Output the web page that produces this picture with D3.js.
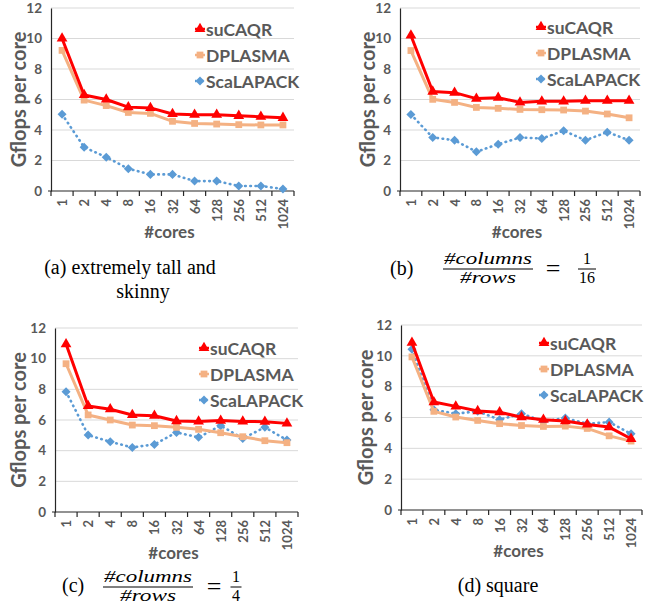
<!DOCTYPE html>
<html>
<head>
<meta charset="utf-8">
<script src="https://cdn.jsdelivr.net/npm/d3@7"></script>
<style>
  body { margin: 0; background: #fff; }
  svg { display: block; }
</style>
</head>
<body>
<div id="chart"></div>
<script>
// categories and ticks
const cores = ["1", "2", "4", "8", "16", "32", "64", "128", "256", "512", "1024"];
const yTicks = [0, 2, 4, 6, 8, 10, 12];
const seriesNames = ["suCAQR", "DPLASMA", "ScaLAPACK"];

// (a) extremely tall and skinny
const aSuCAQR    = [10.0, 6.3, 6.0, 5.5, 5.45, 5.05, 5.0, 5.0, 4.93, 4.87, 4.8];
const aDPLASMA   = [9.22, 5.96, 5.6, 5.15, 5.09, 4.57, 4.43, 4.39, 4.35, 4.33, 4.33];
const aScaLAPACK = [5.04, 2.87, 2.22, 1.46, 1.09, 1.09, 0.65, 0.65, 0.33, 0.33, 0.13];
// (b) columns/rows = 1/16
const bSuCAQR    = [10.2, 6.52, 6.45, 6.06, 6.12, 5.81, 5.88, 5.88, 5.92, 5.92, 5.92];
const bDPLASMA   = [9.21, 6.01, 5.81, 5.48, 5.42, 5.35, 5.33, 5.31, 5.24, 5.05, 4.8];
const bScaLAPACK = [5.02, 3.51, 3.33, 2.57, 3.07, 3.51, 3.44, 3.95, 3.33, 3.86, 3.33];
// (c) columns/rows = 1/4
const cSuCAQR    = [10.95, 6.92, 6.7, 6.33, 6.28, 5.93, 5.91, 5.96, 5.91, 5.89, 5.78];
const cDPLASMA   = [9.67, 6.33, 6.0, 5.67, 5.63, 5.52, 5.39, 5.17, 4.91, 4.65, 4.52];
const cScaLAPACK = [7.85, 5.02, 4.58, 4.21, 4.41, 5.19, 4.87, 5.63, 4.8, 5.52, 4.69];
// (d) square
const dSuCAQR    = [10.85, 7.0, 6.72, 6.42, 6.34, 6.02, 5.86, 5.77, 5.55, 5.38, 4.62];
const dDPLASMA   = [9.93, 6.4, 6.03, 5.81, 5.6, 5.48, 5.42, 5.44, 5.29, 4.81, 4.47];
const dScaLAPACK = [10.42, 6.5, 6.25, 6.4, 5.86, 6.25, 5.75, 5.96, 5.6, 5.7, 4.94];

const width = 649, height = 611;
const textGray = "#595959";
const font = "Lato, 'Open Sans', sans-serif";
const serif = "'Liberation Serif', 'DejaVu Serif', serif";

const styles = [
  { color: "#ff0000", width: 3, dash: null, symbol: d3.symbolTriangle, size: 50 },
  { color: "#f4b183", width: 3, dash: null, symbol: d3.symbolSquare, size: 46 },
  { color: "#5b9bd5", width: 2.6, dash: "0.6,4.6", symbol: "diamond", size: 48 }
];

const panels = [
  { left: 51, right: 294, top: 8, bottom: 191, ylabX: 18, legX: 200, legY: 29,
    series: [aSuCAQR, aDPLASMA, aScaLAPACK] },
  { left: 400, right: 640, top: 8, bottom: 191, ylabX: 367, legX: 541, legY: 27,
    series: [bSuCAQR, bDPLASMA, bScaLAPACK] },
  { left: 55, right: 298, top: 328, bottom: 512, ylabX: 18, legX: 204, legY: 348,
    series: [cSuCAQR, cDPLASMA, cScaLAPACK] },
  { left: 401, right: 642, top: 325, bottom: 510, ylabX: 365, legX: 544, legY: 343,
    series: [dSuCAQR, dDPLASMA, dScaLAPACK] }
];

const svg = d3.select("#chart")
  .append("svg")
  .attr("width", width)
  .attr("height", height);

function marker(style) {
  if (style.symbol === "diamond") {
    const r = Math.sqrt(style.size) / 2 * 1.3;
    return `M0,${-r}L${r},0L0,${r}L${-r},0Z`;
  }
  return d3.symbol().type(style.symbol).size(style.size)();
}

function drawPanel(p) {
  const g = svg.append("g");

  const x = d3.scaleBand().domain(cores).range([p.left, p.right]).padding(0);
  const y = d3.scaleLinear().domain([0, 12]).range([p.bottom, p.top]);

  // gridlines
  g.append("g")
    .selectAll("line")
    .data(yTicks.filter(d => d > 0))
    .join("line")
    .attr("x1", p.left).attr("x2", p.right)
    .attr("y1", d => y(d)).attr("y2", d => y(d))
    .attr("stroke", "#d9d9d9").attr("stroke-width", 1);

  // y axis
  const yAxis = g.append("g")
    .attr("transform", `translate(${p.left},0)`)
    .call(d3.axisLeft(y).tickValues(yTicks).tickSize(0).tickPadding(9));
  yAxis.select(".domain").attr("stroke", "#262626").attr("stroke-width", 1.2);
  yAxis.selectAll("text")
    .attr("fill", textGray)
    .style("font", `bold 13.5px ${font}`);

  // x axis: line with ticks between categories
  const xAxis = g.append("g")
    .attr("transform", `translate(0,${p.bottom})`)
    .call(d3.axisBottom(x).tickSize(0).tickPadding(8));
  xAxis.select(".domain").attr("stroke", "#262626").attr("stroke-width", 1.2)
    .attr("d", `M${p.left - 3},0H${p.right}`);
  xAxis.selectAll("text")
    .attr("fill", textGray)
    .style("font", `bold 13px ${font}`)
    .attr("text-anchor", "end")
    .attr("dy", null)
    .attr("dominant-baseline", "central")
    .attr("transform", "rotate(-90)")
    .attr("x", -8)
    .attr("y", 0);
  xAxis.append("g")
    .selectAll("line")
    .data(d3.range(cores.length + 1))
    .join("line")
    .attr("x1", i => p.left + i * x.step())
    .attr("x2", i => p.left + i * x.step())
    .attr("y1", 0).attr("y2", 5)
    .attr("stroke", "#262626").attr("stroke-width", 1.2);

  // axis titles
  g.append("text")
    .attr("x", (p.left + p.right) / 2 - 3)
    .attr("y", p.bottom + 47)
    .attr("text-anchor", "middle")
    .attr("fill", textGray)
    .style("font", `bold 17px ${font}`)
    .text("#cores");

  g.append("text")
    .attr("transform", `translate(${p.ylabX},${(p.top + p.bottom) / 2}) rotate(-90)`)
    .attr("text-anchor", "middle")
    .attr("dominant-baseline", "central")
    .attr("fill", textGray)
    .style("font", `bold 20px ${font}`)
    .text("Gflops per core");

  // series, drawn bottom-up so suCAQR sits on top
  const line = d3.line()
    .x((d, i) => x(cores[i]) + x.bandwidth() / 2)
    .y(d => y(d));

  [2, 1, 0].forEach(si => {
    const s = styles[si];
    const vals = p.series[si];
    g.append("path")
      .datum(vals)
      .attr("d", line)
      .attr("fill", "none")
      .attr("stroke", s.color)
      .attr("stroke-width", s.width)
      .attr("stroke-dasharray", s.dash)
      .attr("stroke-linecap", s.dash ? "round" : "butt")
      .attr("stroke-linejoin", "round");
    g.append("g")
      .selectAll("path")
      .data(vals)
      .join("path")
      .attr("transform", (d, i) => `translate(${x(cores[i]) + x.bandwidth() / 2},${y(d)})`)
      .attr("d", marker(s))
      .attr("fill", s.color);
  });

  // legend
  const leg = g.append("g");
  seriesNames.forEach((name, i) => {
    const s = styles[i];
    const ly = p.legY + i * 26;
    leg.append("line")
      .attr("x1", p.legX - 5).attr("x2", p.legX + 5)
      .attr("y1", ly).attr("y2", ly)
      .attr("stroke", s.color).attr("stroke-width", 2.5)
      .attr("stroke-dasharray", s.dash ? "1.5,2" : null);
    leg.append("path")
      .attr("transform", `translate(${p.legX},${ly})`)
      .attr("d", marker(s))
      .attr("fill", s.color);
    leg.append("text")
      .attr("x", p.legX + 6)
      .attr("y", ly)
      .attr("dominant-baseline", "central")
      .attr("fill", textGray)
      .style("font", `bold 17.5px ${font}`)
      .text(name);
  });
}

panels.forEach(drawPanel);

// captions
function plain(xp, yp, str, anchor, size) {
  svg.append("text")
    .attr("x", xp).attr("y", yp)
    .attr("text-anchor", anchor || "start")
    .style("font", `${size || 20}px ${serif}`)
    .attr("fill", "#000")
    .text(str);
}

function frac(cx, barY, top, bottom, topW, botW, italic) {
  const st = italic ? "italic " : "";
  const t = svg.append("text")
    .attr("x", cx).attr("y", barY - 5)
    .attr("text-anchor", "middle")
    .style("font", `${st}16px ${serif}`)
    .text(top);
  if (topW) t.attr("textLength", topW).attr("lengthAdjust", "spacingAndGlyphs");
  const b = svg.append("text")
    .attr("x", cx).attr("y", barY + 14)
    .attr("text-anchor", "middle")
    .style("font", `${st}16px ${serif}`)
    .text(bottom);
  if (botW) b.attr("textLength", botW).attr("lengthAdjust", "spacingAndGlyphs");
  const w = Math.max(topW || 9, botW || 9) + 2;
  svg.append("line")
    .attr("x1", cx - w / 2).attr("x2", cx + w / 2)
    .attr("y1", barY).attr("y2", barY)
    .attr("stroke", "#000").attr("stroke-width", 1);
}

plain(130, 274, "(a) extremely tall and", "middle");
plain(143, 298, "skinny", "middle");

plain(390, 275, "(b)");
frac(488, 269, "#columns", "#rows", 88, 56, true);
plain(553, 277, "=", "middle", 26);
frac(587, 269, "1", "16", null, 16, false);

plain(62, 592, "(c)");
frac(148, 587, "#columns", "#rows", 88, 56, true);
plain(214, 595, "=", "middle", 26);
frac(236, 587, "1", "4", null, null, false);

plain(498, 592, "(d) square", "middle");
</script>
</body>
</html>
